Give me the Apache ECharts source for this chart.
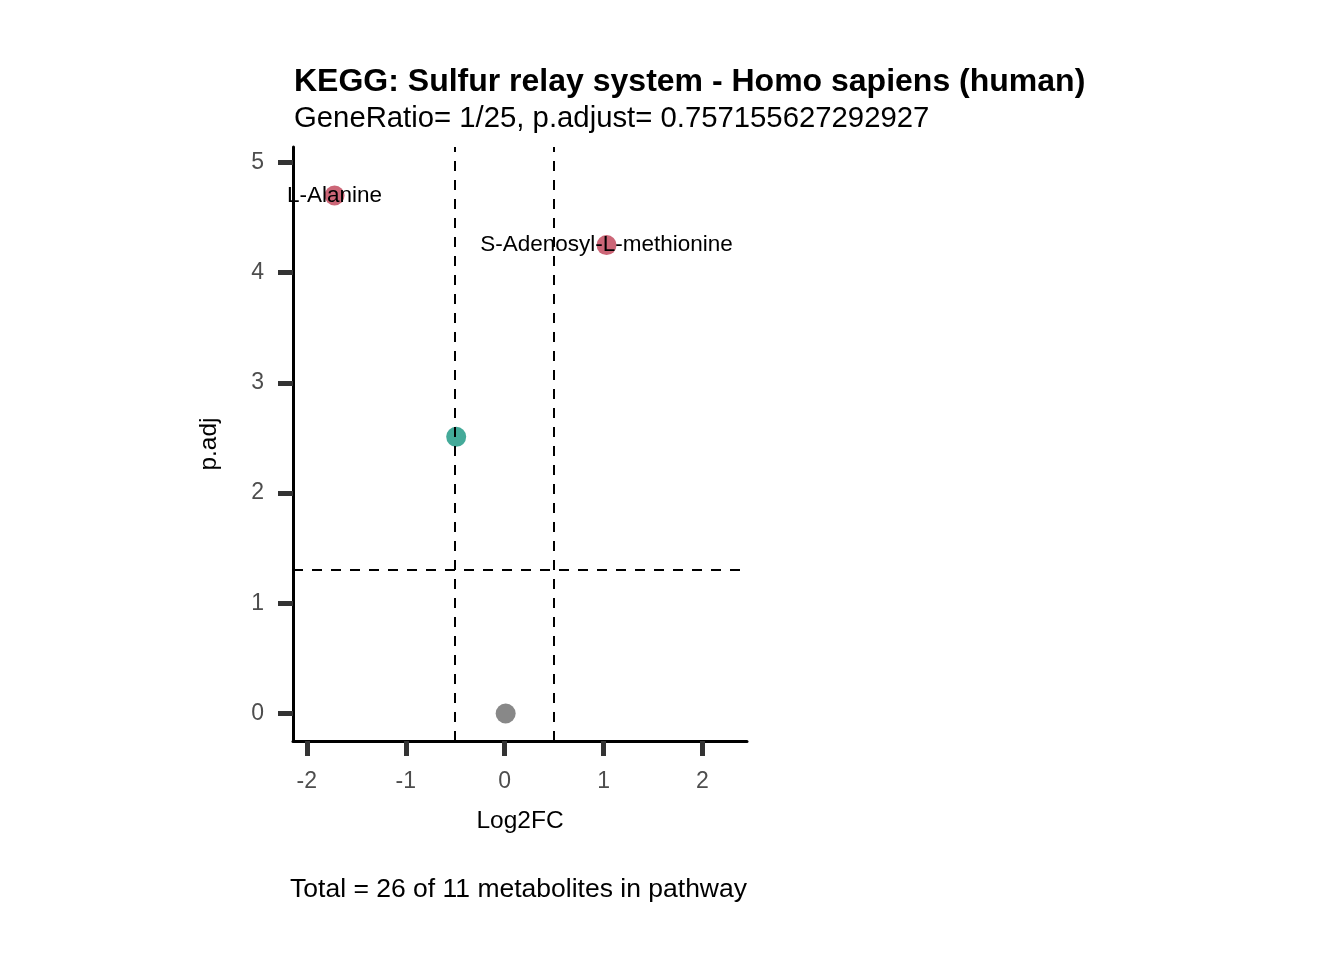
<!DOCTYPE html>
<html lang="en">
    <head>
        <meta charset="UTF-8" />
        <title>KEGG: Sulfur relay system</title>
        <script src="https://cdn.jsdelivr.net/npm/echarts@6.0.0/dist/echarts.min.js"></script>
        <style>
            body {
                margin: 0;
                padding: 0;
                background: #fff;
            }

            #chart {
                width: 1344px;
                height: 960px;
            }
        </style>
    </head>
    <body>
        <div id="chart"></div>
        <script>
            // metabolites
            let metabolites = ['L-Alanine', 'S-Adenosyl-L-methionine', '', ''];
            let log2fc = [-1.72, 1.03, -0.49, 0.01];
            let padj = [4.70, 4.25, 2.51, 0];
            let groups = ['sig', 'sig', 'mid', 'ns'];

            let xTicks = [-2, -1, 0, 1, 2];
            let yTicks = [0, 1, 2, 3, 4, 5];
            let fcCut = [-0.5, 0.5];
            let padjCut = 1.3;

            let colors = { sig: '#CC6677', mid: '#44AA99', ns: '#888888' };
            let font = '"Liberation Sans", Arial, sans-serif';

            let points = [];
            for (let i = 0; i < log2fc.length; i++) {
                points.push({
                    value: [log2fc[i], padj[i]],
                    name: metabolites[i],
                    itemStyle: { color: colors[groups[i]], opacity: 1 }
                });
            }

            let chart = echarts.init(document.getElementById('chart'));

            let axisCommon = {
                type: 'value',
                splitLine: { show: false },
                axisLine: { show: true, onZero: false, lineStyle: { color: '#000', width: 3 } },
                axisTick: { show: true, length: 15, lineStyle: { color: '#333', width: 5 } },
                axisLabel: { color: '#4d4d4d', fontSize: 23, fontFamily: font, margin: 29 },
                nameLocation: 'middle',
                nameTextStyle: { color: '#000', fontSize: 24.5, fontFamily: font }
            };

            let option = {
                animation: false,
                backgroundColor: '#fff',
                title: [
                    {
                        text: 'KEGG: Sulfur relay system - Homo sapiens (human)',
                        left: 294,
                        top: 66,
                        padding: 0,
                        textStyle: { fontSize: 32, fontWeight: 'bold', color: '#000', fontFamily: font }
                    },
                    {
                        text: 'GeneRatio= 1/25, p.adjust= 0.757155627292927',
                        left: 294,
                        top: 104,
                        padding: 0,
                        textStyle: { fontSize: 29.3, fontWeight: 'normal', color: '#000', fontFamily: font }
                    },
                    {
                        text: 'Total = 26 of 11 metabolites in pathway',
                        right: 597,
                        top: 876,
                        padding: 0,
                        textStyle: { fontSize: 26.5, fontWeight: 'normal', color: '#000', fontFamily: font }
                    }
                ],
                grid: { left: 293, right: 597, top: 147, bottom: 219, containLabel: false },
                xAxis: Object.assign({}, axisCommon, {
                    min: -2.14,
                    max: 2.45,
                    name: 'Log2FC',
                    nameGap: 68,
                    axisTick: Object.assign({}, axisCommon.axisTick, { customValues: xTicks }),
                    axisLabel: Object.assign({}, axisCommon.axisLabel, { customValues: xTicks })
                }),
                yAxis: Object.assign({}, axisCommon, {
                    min: -0.25,
                    max: 5.14,
                    name: 'p.adj',
                    nameGap: 71,
                    axisTick: Object.assign({}, axisCommon.axisTick, { customValues: yTicks }),
                    axisLabel: Object.assign({}, axisCommon.axisLabel, { customValues: yTicks })
                }),
                series: [
                    {
                        type: 'scatter',
                        symbolSize: 20,
                        data: points,
                        label: {
                            show: true,
                            position: 'inside',
                            formatter: (p) => p.name,
                            color: '#000',
                            textBorderWidth: 0,
                            fontSize: 22.5,
                            fontFamily: font
                        },
                        markLine: {
                            silent: true,
                            symbol: 'none',
                            z: 10,
                            label: { show: false },
                            lineStyle: { color: '#000', type: [10, 9], width: 2 },
                            data: [{ xAxis: fcCut[0] }, { xAxis: fcCut[1] }, { yAxis: padjCut }]
                        }
                    }
                ]
            };
            chart.setOption(option);
        </script>
    </body>
</html>
